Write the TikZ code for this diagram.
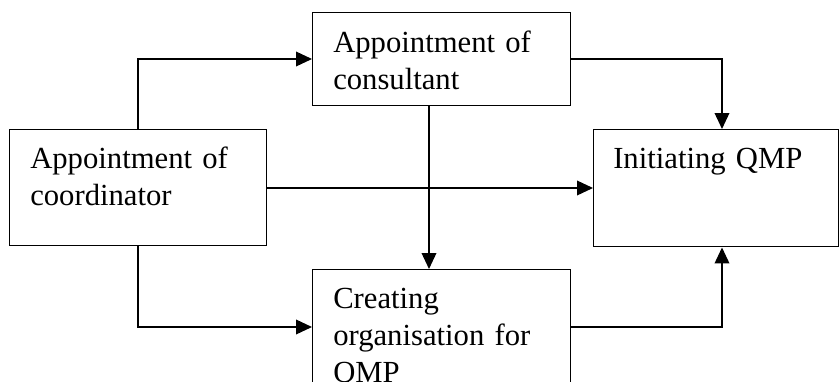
\documentclass[tikz,border=0pt]{standalone}
\usepackage{fontspec}
\setmainfont{Liberation Serif}
\usetikzlibrary{arrows.meta}
\begin{document}
\begin{tikzpicture}[x=0.75pt,y=-0.75pt,
  box/.style={draw,line width=1.1pt,rectangle,inner sep=0pt,anchor=north west},
  lbl/.style={anchor=base west,inner sep=0pt,text width=250pt,align=left,
    font=\fontsize{23}{27.75}\selectfont},
  flow/.style={line width=1.1pt,-{Triangle[length=12pt,width=11pt]}}]
\useasboundingbox (0,0) rectangle (839,382);
\clip (0,0) rectangle (839,382);

% process boxes
\node[box,minimum width=257*0.75pt,minimum height=116*0.75pt] (coo) at (9,129) {};
\node[box,minimum width=258*0.75pt,minimum height=93*0.75pt] (con) at (312,12) {};
\node[box,minimum width=245*0.75pt,minimum height=117*0.75pt] (ini) at (593,129) {};
\node[box,minimum width=258*0.75pt,minimum height=140*0.75pt] (cre) at (312,269) {};

% box texts
\node[lbl] (tcoo) at ([shift={(21,39)}]coo.north west) {Appointment of\\coordinator};
\node[lbl] (tcon) at ([shift={(21,40)}]con.north west) {Appointment of\\consultant};
\node[lbl] (tini) at ([shift={(20,39)}]ini.north west) {Initiating QMP};
\node[lbl] (tcre) at ([shift={(21,39)}]cre.north west) {Creating\\organisation for\\QMP};

% connectors
\draw[flow] (coo.north -| 138,0) |- (con.west |- 0,59);
\draw[flow] (con.east |- 0,59) -| (ini.north -| 722,0);
\draw[flow] (coo.east |- 0,188) -- (ini.west |- 0,188);
\draw[flow] (con.south -| 429,0) -- (cre.north -| 429,0);
\draw[flow] (coo.south -| 138,0) |- (cre.west |- 0,327);
\draw[flow] (cre.east |- 0,327) -| (ini.south -| 722,0);
\end{tikzpicture}
\end{document}
